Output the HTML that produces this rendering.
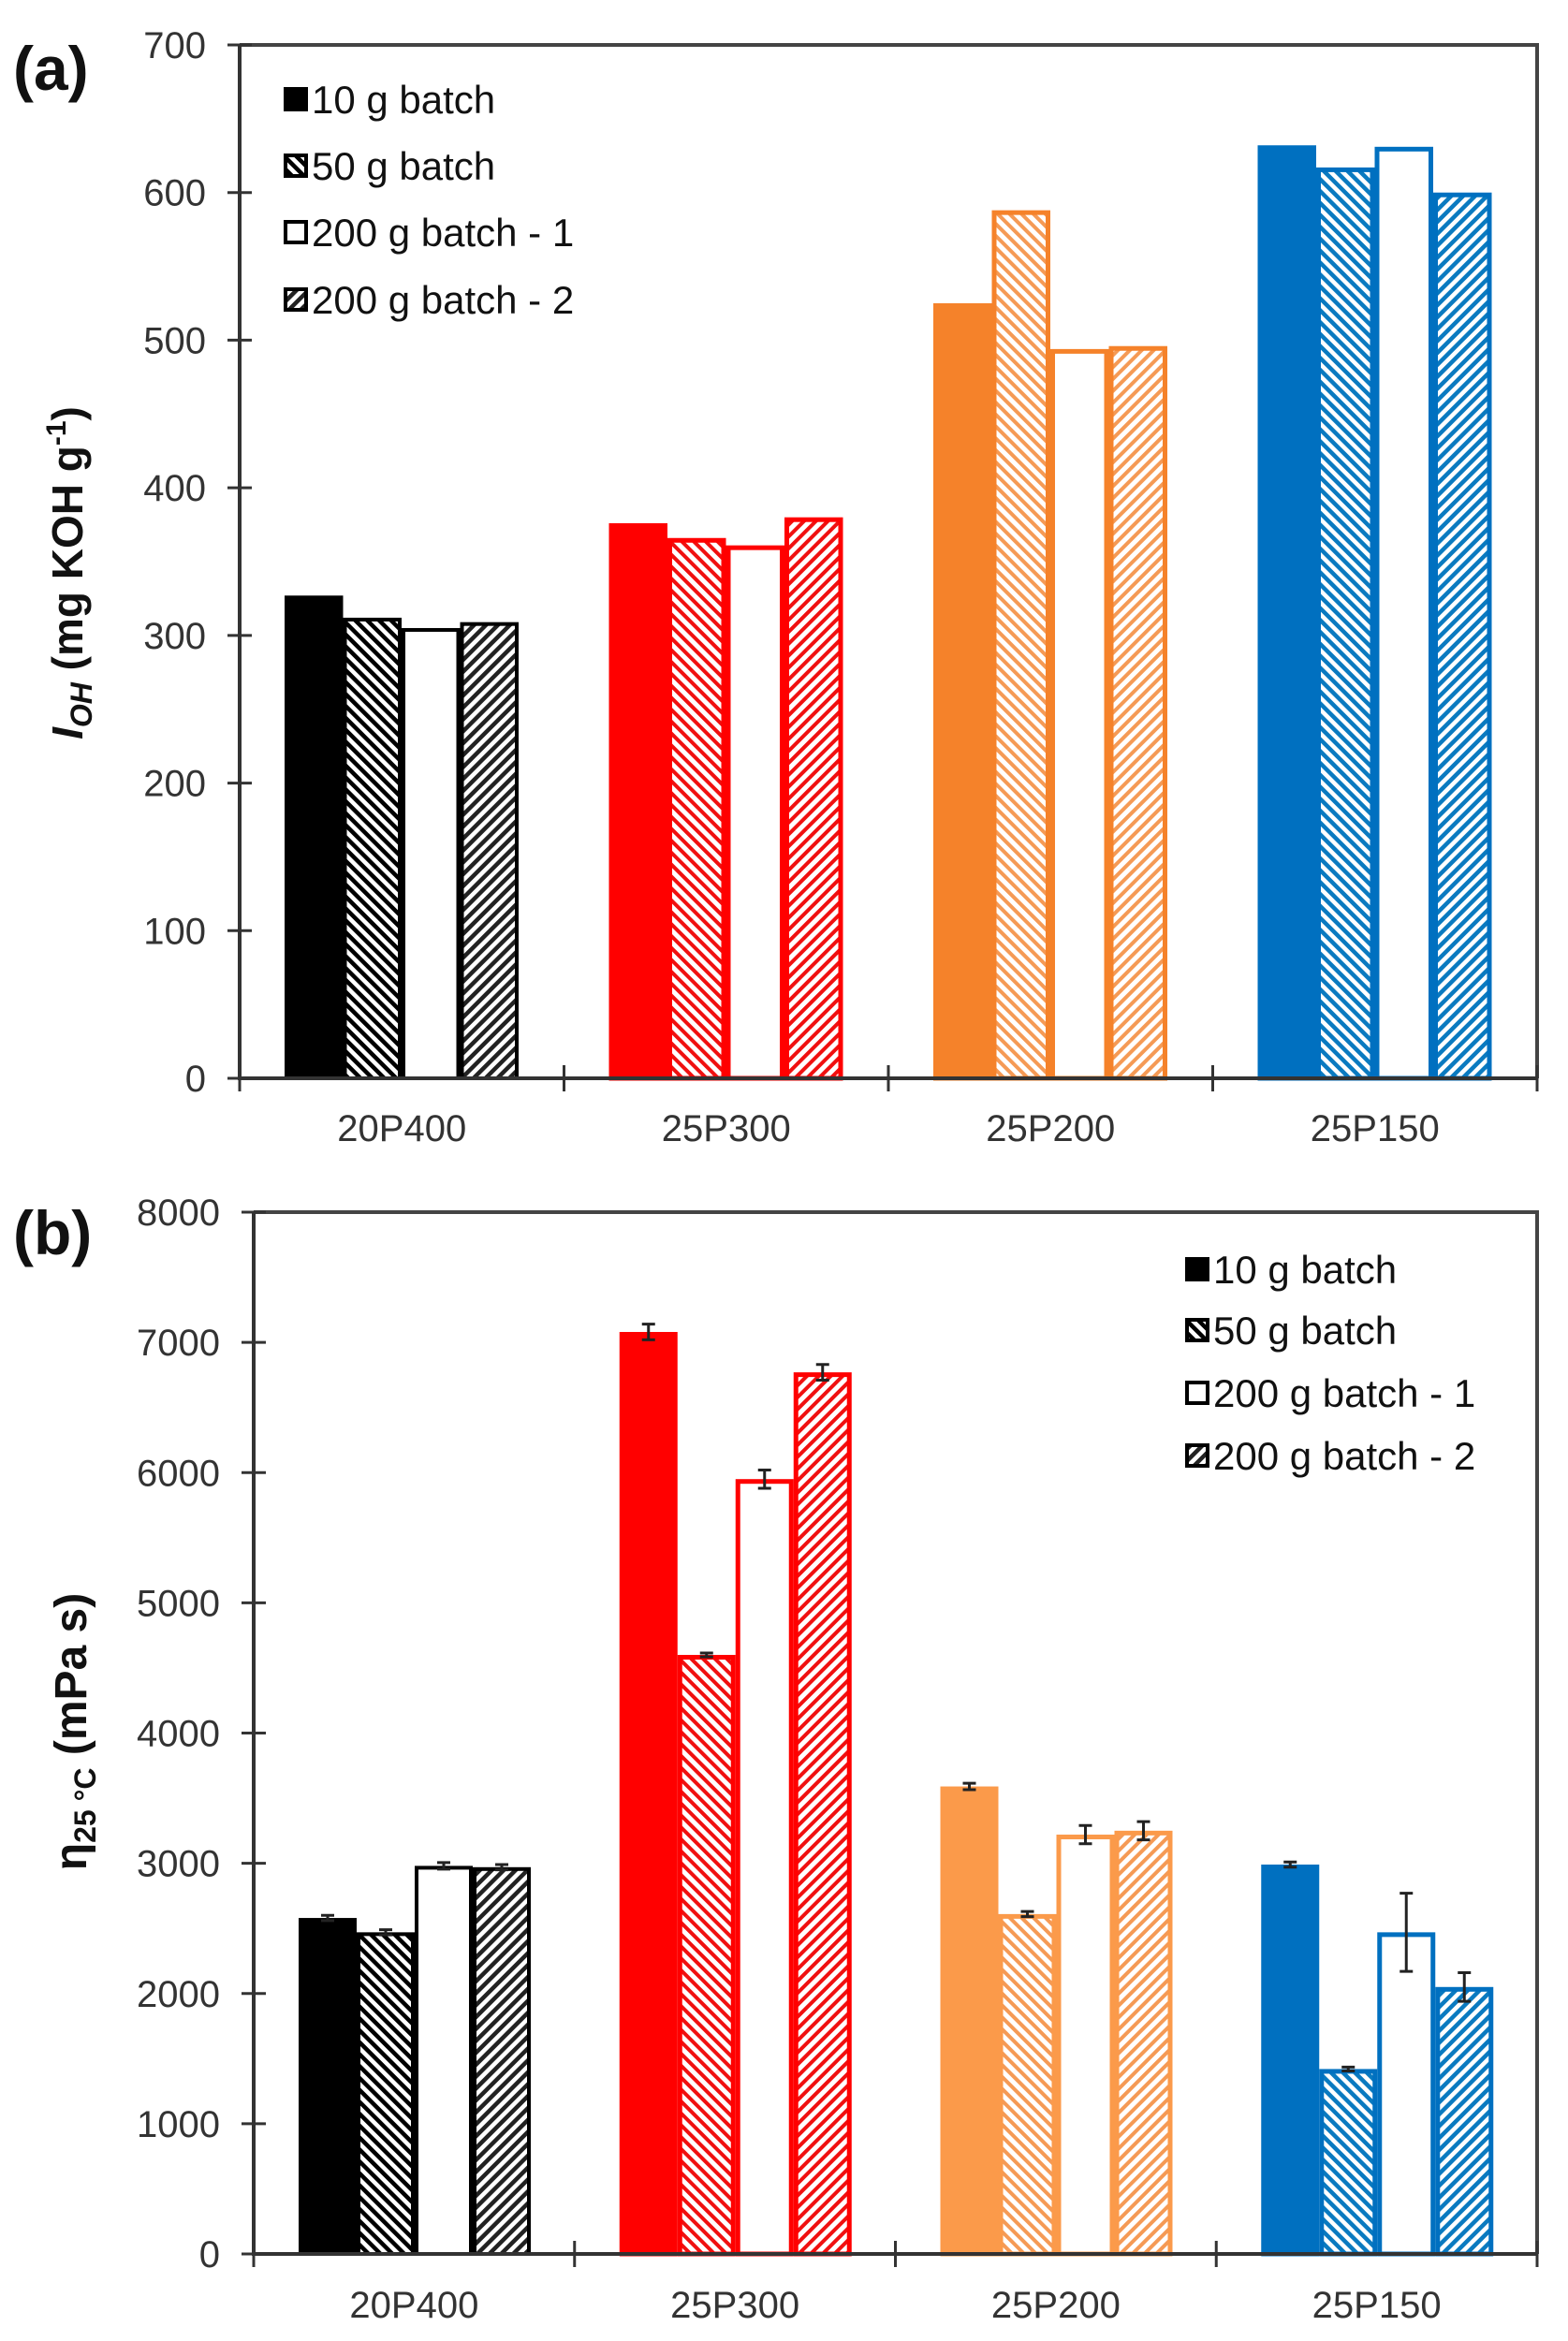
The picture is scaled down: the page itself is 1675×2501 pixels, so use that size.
<!DOCTYPE html>
<html><head><meta charset="utf-8"><style>
html,body{margin:0;padding:0;background:#fff;}
svg{display:block;}
text{font-family:"Liberation Sans",Arial,sans-serif;}
</style></head><body>
<svg width="1675" height="2501" viewBox="0 0 1675 2501" xmlns="http://www.w3.org/2000/svg">
<defs>
<pattern id="bk1" width="9" height="9" patternUnits="userSpaceOnUse" patternTransform="rotate(45)"><rect width="9" height="9" fill="#fff"/><rect width="9" height="4.5" fill="#000"/></pattern>
<pattern id="bk2" width="9" height="9" patternUnits="userSpaceOnUse" patternTransform="rotate(-45)"><rect width="9" height="9" fill="#fff"/><rect width="9" height="4.5" fill="#222"/></pattern>
<pattern id="rd1" width="9" height="9" patternUnits="userSpaceOnUse" patternTransform="rotate(45)"><rect width="9" height="9" fill="#fff"/><rect width="9" height="4" fill="#f01010"/></pattern>
<pattern id="rd2" width="9" height="9" patternUnits="userSpaceOnUse" patternTransform="rotate(-45)"><rect width="9" height="9" fill="#fff"/><rect width="9" height="4" fill="#f01010"/></pattern>
<pattern id="or1" width="9" height="9" patternUnits="userSpaceOnUse" patternTransform="rotate(45)"><rect width="9" height="9" fill="#fff"/><rect width="9" height="4" fill="#f59a55"/></pattern>
<pattern id="or2" width="9" height="9" patternUnits="userSpaceOnUse" patternTransform="rotate(-45)"><rect width="9" height="9" fill="#fff"/><rect width="9" height="4" fill="#f59a55"/></pattern>
<pattern id="bl1" width="9" height="9" patternUnits="userSpaceOnUse" patternTransform="rotate(45)"><rect width="9" height="9" fill="#fff"/><rect width="9" height="4.5" fill="#0a7ac0"/></pattern>
<pattern id="bl2" width="9" height="9" patternUnits="userSpaceOnUse" patternTransform="rotate(-45)"><rect width="9" height="9" fill="#fff"/><rect width="9" height="4.5" fill="#0a7ac0"/></pattern>
</defs>
<g id="root"></g>
</svg>
<script>
var S='http://www.w3.org/2000/svg',root=document.getElementById('root');
function el(t,a,txt){var e=document.createElementNS(S,t);for(var k in a)e.setAttribute(k,a[k]);if(txt!=null)e.textContent=txt;root.appendChild(e);return e;}
var cols=['#000','#ff0000','#f5822a','#0070c0'],colsB=['#000','#ff0000','#fb9a4a','#0070c0'];
var pats=['bk','rd','or','bl'],cats=['20P400','25P300','25P200','25P150'];
function panel(o){
 var x0=o.x0,x1=1642,y0=o.y0,yt=o.yt,k=(y0-yt)/o.max,cw=(x1-x0)/4;
 for(var i=0;i<4;i++){for(var j=0;j<4;j++){
  var v=o.vals[i][j],bx=x0+cw*i+48+o.bw*j,by=y0-v*k,c=o.cols[i],sw=(i==0?4:5);
  var fill=j==0?c:(j==2?'#fff':'url(#'+pats[i]+(j==1?'1':'2')+')');
  el('rect',{x:bx+sw/2,y:by+sw/2,width:o.bw-sw,height:v*k-sw/2,fill:fill,stroke:c,'stroke-width':sw});
  if(o.err){var e=o.err[i][j]*k,cx=bx+o.bw/2;
   el('path',{d:'M'+cx+' '+(by-e)+'V'+(by+e)+'M'+(cx-7)+' '+(by-e)+'H'+(cx+7)+'M'+(cx-7)+' '+(by+e)+'H'+(cx+7),stroke:'#222','stroke-width':3,fill:'none'});}
 }}
 el('path',{d:'M'+x0+' '+yt+'H'+x1+'V'+y0,stroke:'#444','stroke-width':4,fill:'none'});
 el('path',{d:'M'+x0+' '+yt+'V'+y0+'H'+x1,stroke:'#333','stroke-width':4,fill:'none'});
 for(var t=0;t<=o.max;t+=o.step){var y=y0-t*k;
  el('path',{d:'M'+(x0-13)+' '+y+'H'+(x0+13),stroke:'#333','stroke-width':3});
  el('text',{x:o.lx,y:y+14,'text-anchor':'end','font-size':40,fill:'#333'},String(t));}
 for(var i=0;i<=4;i++){var x=x0+cw*i;el('path',{d:'M'+x+' '+(y0-14)+'V'+(y0+14),stroke:'#333','stroke-width':3});}
 for(var i=0;i<4;i++)el('text',{x:x0+cw*i+cw/2,y:o.cy,'text-anchor':'middle','font-size':40,fill:'#333'},cats[i]);
 var labs=['10 g batch','50 g batch','200 g batch - 1','200 g batch - 2'];
 for(var j=0;j<4;j++){var ly=o.ly[j];
  var f=j==0?'#000':(j==2?'#fff':'url(#bk'+(j==1?'1':'2')+')');
  el('rect',{x:o.lgx+2,y:ly-11,width:22,height:22,fill:f,stroke:'#000','stroke-width':4});
  el('text',{x:o.lgx+30,y:ly+15,'font-size':42,fill:'#111'},labs[j]);}
}
panel({x0:256,y0:1152,yt:48,max:700,step:100,bw:62.5,cols:cols,lx:220,cy:1219,
 vals:[[327,312,305,309],[376,366,361,380],[525,588,494,496],[632,617,631,600]],
 err:null,lgx:303,ly:[106,177,248,320]});
panel({x0:271,y0:2408,yt:1295,max:8000,step:1000,bw:62,cols:colsB,lx:235,cy:2476,
 vals:[[2580,2470,2980,2970],[7080,4600,5950,6770],[3590,2610,3220,3250],[2990,1420,2470,2050]],
 err:[[20,20,25,20],[60,15,70,60],[25,20,70,70],[20,15,300,110]],
 lgx:1266,ly:[1356,1421,1488,1555]});
el('text',{x:14,y:96,'font-size':66,'font-weight':'bold',fill:'#111'},'(a)');
el('text',{x:14,y:1340,'font-size':66,'font-weight':'bold',fill:'#111'},'(b)');
var a=el('text',{x:0,y:0,'font-size':46,'font-weight':'bold',fill:'#111','text-anchor':'middle',transform:'translate(88,612) rotate(-90)'});
a.innerHTML='<tspan font-style="italic">I</tspan><tspan font-style="italic" font-size="32" dy="10">OH</tspan><tspan dy="-10"> (mg KOH g</tspan><tspan font-size="30" dy="-18">-1</tspan><tspan dy="18">)</tspan>';
var b=el('text',{x:0,y:0,'font-size':48,'font-weight':'bold',fill:'#111','text-anchor':'middle',transform:'translate(92,1850) rotate(-90)'});
b.innerHTML='η<tspan font-size="32" dy="10">25 °C</tspan><tspan dy="-10"> (mPa s)</tspan>';
</script>
</body></html>
